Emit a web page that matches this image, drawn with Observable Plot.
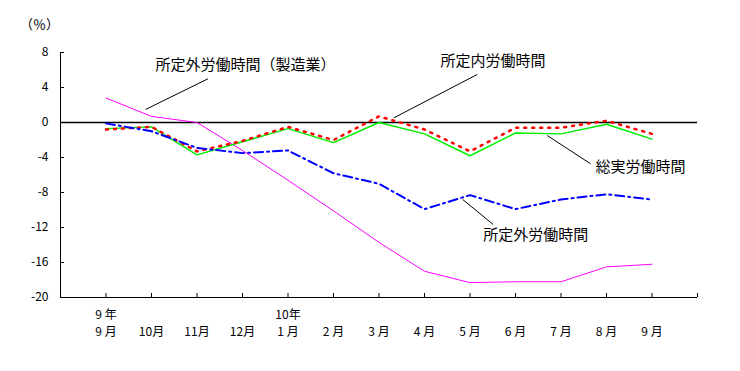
<!DOCTYPE html>
<html>
<head>
<meta charset="utf-8">
<script src="https://cdn.jsdelivr.net/npm/d3@7"></script>
<script src="https://cdn.jsdelivr.net/npm/@observablehq/plot@0.6"></script>
<style>
  html, body { margin: 0; padding: 0; background: #fff; }
  #chart svg { display: block; }
</style>
</head>
<body>
<div id="chart"></div>
<script>
// Categories (months) and the year row above them
const months = ["9 月", "10月", "11月", "12月", "1 月", "2 月", "3 月", "4 月", "5 月", "6 月", "7 月", "8 月", "9 月"];
const years  = ["9 年", "", "", "", "10年", "", "", "", "", "", "", "", ""];

// Series values (%)
const seizoGai = [2.8, 0.7, 0.0, -3.2, -6.6, -10.1, -13.7, -17.0, -18.3, -18.2, -18.2, -16.5, -16.2]; // 所定外労働時間（製造業）
const shoteiNai = [-0.8, -0.5, -3.3, -2.1, -0.5, -2.0, 0.7, -0.8, -3.3, -0.6, -0.6, 0.2, -1.3];      // 所定内労働時間
const soJitsu   = [-0.7, -0.5, -3.7, -2.2, -0.7, -2.3, 0.0, -1.3, -3.8, -1.2, -1.3, -0.2, -1.9];     // 総実労働時間
const shoteiGai = [-0.1, -1.0, -2.9, -3.5, -3.2, -5.8, -7.0, -9.9, -8.3, -9.9, -8.8, -8.2, -8.8];    // 所定外労働時間

const yTicks = [8, 4, 0, -4, -8, -12, -16, -20];

// Callout labels (anchor in data coordinates) and leader lines
const callouts = [
  {text: "所定外労働時間（製造業）", x: 2.09, y: 6.5, x1: 1.87, y1: 1.49, x2: 3.24, y2: 4.99},
  {text: "所定内労働時間", x: 8.35, y: 7.03, x1: 7.33, y1: 0.54, x2: 9.16, y2: 5.49},
  {text: "総実労働時間", x: 11.76, y: -5.09, x1: 10.70, y1: -1.49, x2: 11.65, y2: -4.72},
  {text: "所定外労働時間", x: 9.29, y: -12.91, x1: 8.84, y1: -8.8, x2: 9.51, y2: -11.66}
];

const n = months.length;
const xTicks = d3.range(0, n + 2);
const series = (vals) => vals.map((v, i) => ({x: i + 1, y: v}));
const font = "'Noto Sans CJK JP', sans-serif";

const chart = Plot.plot({
  width: 740,
  height: 371,
  marginLeft: 60,
  marginRight: 43,
  marginTop: 52,
  marginBottom: 74,
  style: {fontFamily: font, fontSize: "12px", color: "#000", background: "#fff"},
  x: {type: "linear", domain: [0, n + 1]},
  y: {domain: [yTicks[yTicks.length - 1], yTicks[0]]},
  marks: [
    Plot.ruleX([0], {stroke: "#000", strokeWidth: 1}),
    Plot.ruleY([yTicks[yTicks.length - 1]], {stroke: "#000", strokeWidth: 1}),
    Plot.ruleY([0], {stroke: "#000", strokeWidth: 1.5}),
    Plot.axisY({ticks: yTicks, tickSize: -4, tickPadding: 16, tickFormat: d => String(d), fontSize: 12, fill: "#000"}),
    Plot.axisX({ticks: xTicks, tickSize: -4, tickFormat: () => ""}),
    Plot.text(months, {x: (d, i) => i + 1, text: d => d, frameAnchor: "bottom", textAnchor: "middle", dy: 35, lineAnchor: "middle", fontSize: 12}),
    Plot.text(years, {x: (d, i) => i + 1, text: d => d, frameAnchor: "bottom", textAnchor: "middle", dy: 18, lineAnchor: "middle", fontSize: 12}),
    Plot.text(["（％）"], {frameAnchor: "top-left", textAnchor: "middle", dx: -21, dy: -33, fontSize: 13}),
    Plot.line(series(seizoGai), {x: "x", y: "y", stroke: "#ff00ff", strokeWidth: 1}),
    Plot.line(series(soJitsu), {x: "x", y: "y", stroke: "#00ee00", strokeWidth: 1.5}),
    Plot.line(series(shoteiNai), {x: "x", y: "y", stroke: "#ff0000", strokeWidth: 2.5, strokeDasharray: "2 6"}),
    Plot.line(series(shoteiGai), {x: "x", y: "y", stroke: "#0000ff", strokeWidth: 2, strokeDasharray: "9 4 2 4"}),
    Plot.link(callouts, {x1: "x1", y1: "y1", x2: "x2", y2: "y2", stroke: "#000", strokeWidth: 1}),
    Plot.text(callouts, {x: "x", y: "y", text: "text", textAnchor: "start", fontSize: 15, fill: "#000"})
  ]
});

document.getElementById("chart").appendChild(chart);
</script>
</body>
</html>
